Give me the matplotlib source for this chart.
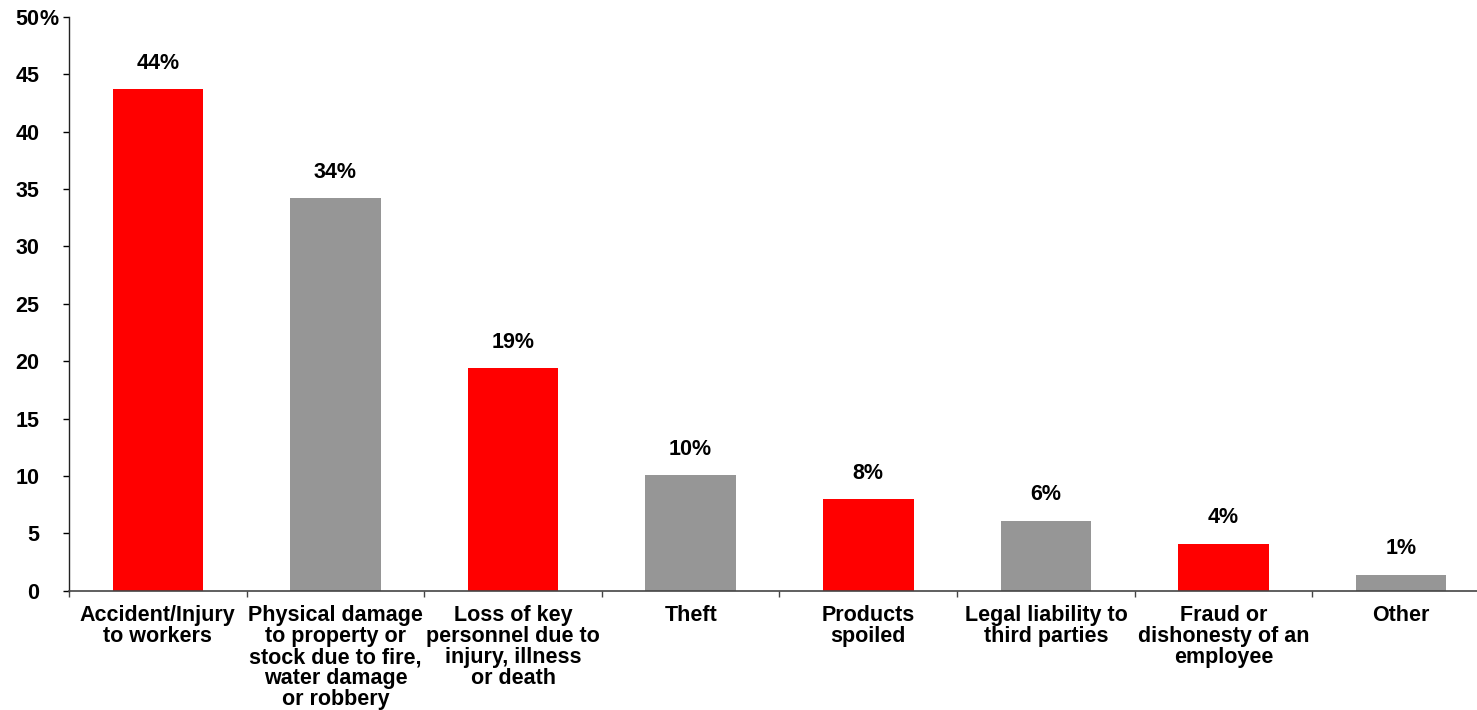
import matplotlib
matplotlib.use('Agg')
import matplotlib.pyplot as plt
from matplotlib.ticker import FixedLocator, NullFormatter

plt.rcParams['font.family'] = ['Liberation Sans', 'DejaVu Sans']

categories = ['Accident/Injury\nto workers',
              'Physical damage\nto property or\nstock due to fire,\nwater damage\nor robbery',
              'Loss of key\npersonnel due to\ninjury, illness\nor death',
              'Theft',
              'Products\nspoiled',
              'Legal liability to\nthird parties',
              'Fraud or\ndishonesty of an\nemployee',
              'Other']
values = [43.7, 34.2, 19.4, 10.1, 8.0, 6.1, 4.1, 1.4]
value_labels = ['44%', '34%', '19%', '10%', '8%', '6%', '4%', '1%']
colors = ['#FF0000', '#969696'] * 4
ytick_vals = [0, 5, 10, 15, 20, 25, 30, 35, 40, 45, 50]
ytick_labels = ['0', '5', '10', '15', '20', '25', '30', '35', '40', '45', '50']

FS = 15.5
fig = plt.figure(figsize=(14.77, 7.10), dpi=100)
ax = fig.add_axes([69/1477, 1 - 590.7/710, 1 - 69/1477, (590.7 - 17)/710])

x = list(range(len(categories)))
ax.bar(x, values, width=0.51, color=colors, zorder=2)

for xi, v, lab in zip(x, values, value_labels):
    ax.annotate(lab, (xi, v), xytext=(0, 11), textcoords='offset points',
                ha='center', va='bottom', fontsize=FS, fontweight='bold')

ax.set_ylim(0, 50)
ax.set_xlim(-0.5, 7.5 - 13/177.7)
ax.set_yticks(ytick_vals)
ax.set_yticklabels(ytick_labels, fontsize=FS, fontweight='bold')
# percent sign after the top tick label
ax.annotate('%', xy=(0, 50), xycoords=ax.get_yaxis_transform(),
            xytext=(-21.5, 0), textcoords='offset points',
            ha='left', va='center_baseline', fontsize=FS, fontweight='bold')

# category labels at centres, tick marks at boundaries
ax.xaxis.set_major_locator(FixedLocator([i + 0.5 for i in range(-1, 8)]))
ax.xaxis.set_major_formatter(NullFormatter())
ax.xaxis.set_minor_locator(FixedLocator(x))
ax.set_xticklabels(categories, minor=True, fontsize=FS, fontweight='bold', linespacing=1.0)
ax.tick_params(axis='x', which='minor', length=0, pad=10.5)
ax.tick_params(axis='x', which='major', length=4.5, width=1, direction='out', colors='#444444')
ax.tick_params(axis='y', length=4.5, width=1, direction='out', pad=17)

for side in ['top', 'right']:
    ax.spines[side].set_visible(False)
ax.spines['bottom'].set_color('#444444')
ax.spines['bottom'].set_linewidth(1.2)
ax.spines['left'].set_color('#222222')
ax.spines['left'].set_linewidth(1.0)

fig.savefig('out.png', dpi=100)
